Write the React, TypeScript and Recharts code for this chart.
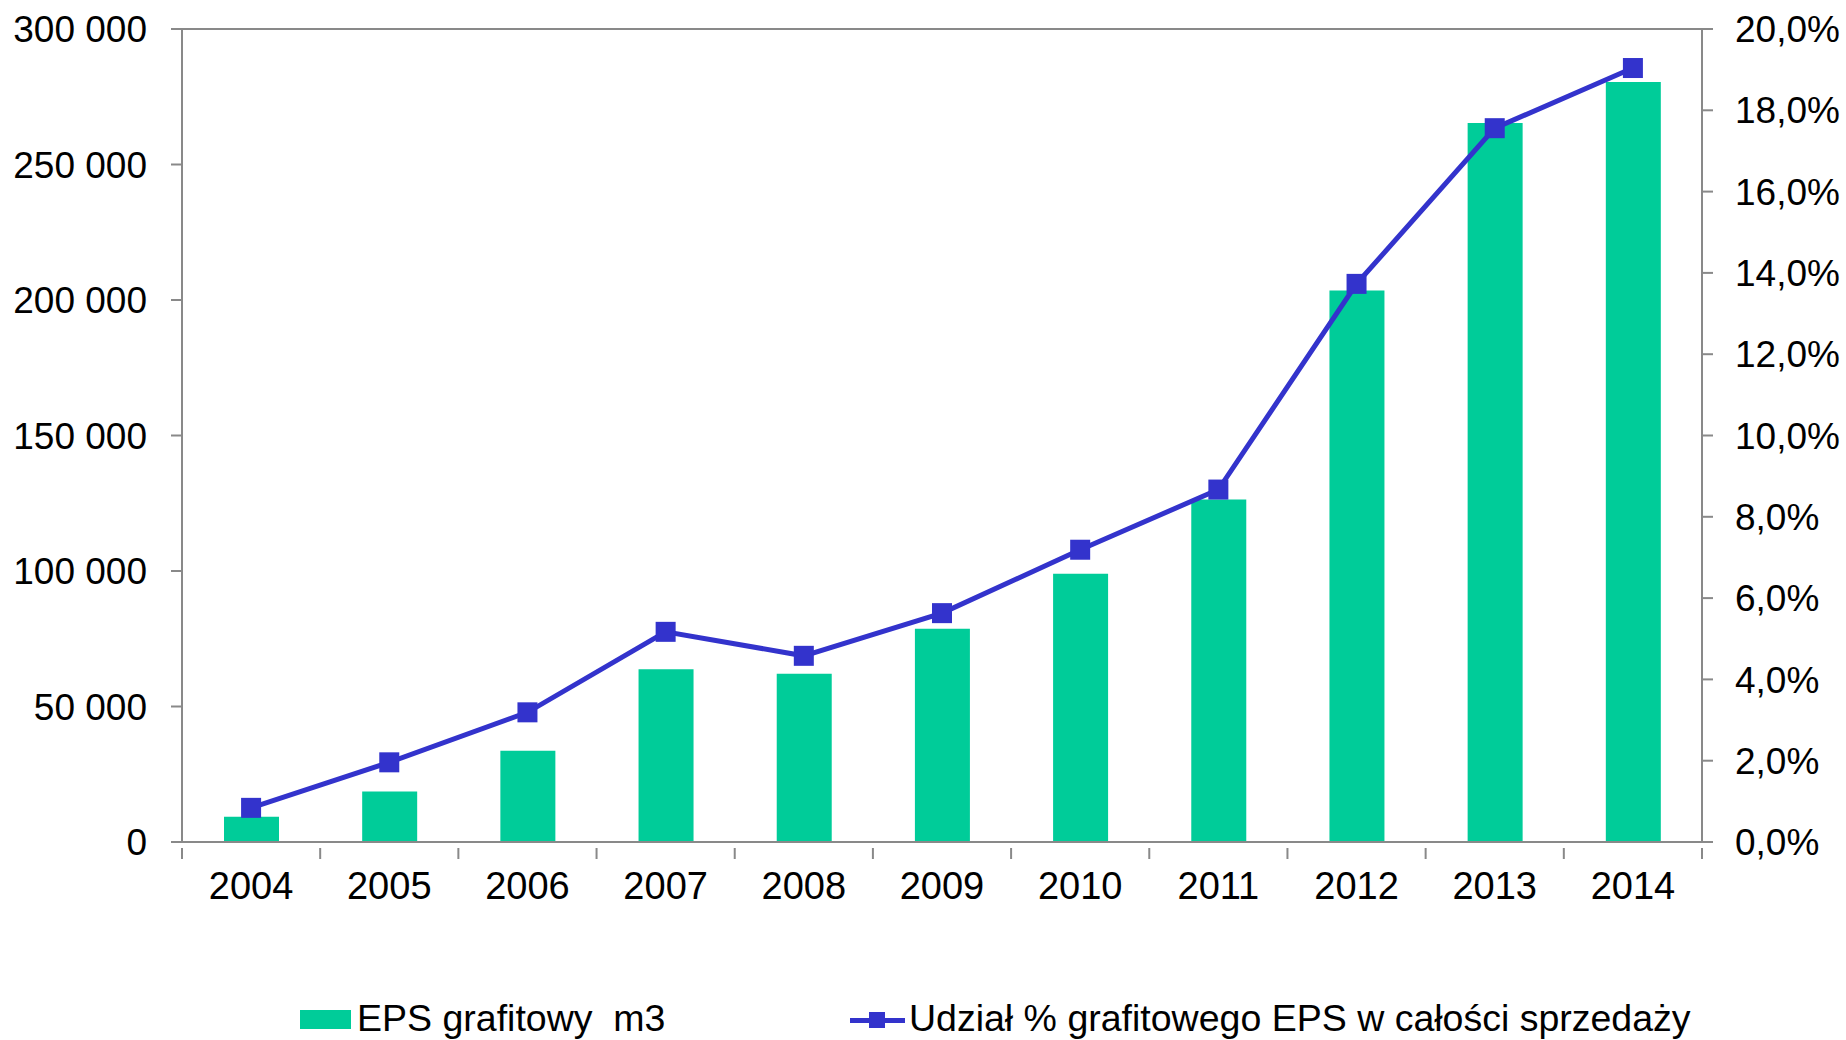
import {
  ComposedChart,
  Bar,
  Line,
  XAxis,
  YAxis,
  CartesianGrid,
  Legend,
} from "recharts";

const years = ["2004", "2005", "2006", "2007", "2008", "2009", "2010", "2011", "2012", "2013", "2014"];
const epsVolume = [9300, 18600, 33700, 63700, 62100, 78700, 99000, 126400, 203500, 265300, 280400];
const epsShare = [0.0084, 0.0196, 0.0319, 0.0517, 0.0458, 0.0563, 0.0719, 0.0867, 0.1373, 0.1756, 0.1904];
const volumeTicks = [0, 50000, 100000, 150000, 200000, 250000, 300000];
const shareTicks = [0, 0.02, 0.04, 0.06, 0.08, 0.1, 0.12, 0.14, 0.16, 0.18, 0.2];

const data = years.map((year, i) => ({
  year,
  volume: epsVolume[i],
  share: epsShare[i],
}));

const FONT = "'Liberation Sans', Arial, sans-serif";
const GRAY = "#898989";
const GREEN = "#00CC99";
const BLUE = "#3333CC";
const X_MARGIN = 24;

const fmtVolume = (v: number) =>
  String(Math.round(v)).replace(/\B(?=(\d{3})+(?!\d))/g, " ");
const fmtShare = (v: number) => (v * 100).toFixed(1).replace(".", ",") + "%";

function SquareDot(props: any) {
  const { cx, cy } = props;
  if (cx == null || cy == null) return null;
  return <rect x={cx - 10} y={cy - 10} width={20} height={20} fill={BLUE} />;
}

// ticks between categories, label in the middle
function YearTick(props: any) {
  const { x, y, payload, index } = props;
  const half = payload.offset || 0;
  const last = index === years.length - 1;
  const top = y - X_MARGIN;
  return (
    <g>
      <line x1={x - half} y1={top} x2={x - half} y2={top + 11} stroke={GRAY} strokeWidth={2} />
      {last && (
        <line x1={x + half} y1={top} x2={x + half} y2={top + 11} stroke={GRAY} strokeWidth={2} />
      )}
      <text x={x} y={y} dy="0.71em" textAnchor="middle" fill="#000" fontSize={38} fontFamily={FONT}>
        {payload.value}
      </text>
    </g>
  );
}

function renderLegend() {
  return (
    <div style={{ position: "relative", width: 1846, height: 40, fontFamily: FONT, fontSize: 37.5, lineHeight: "36px", color: "#000" }}>
      <div style={{ position: "absolute", left: 300, top: 10, width: 51, height: 19, background: GREEN }} />
      <span style={{ position: "absolute", left: 357, top: 0, whiteSpace: "pre" }}>EPS grafitowy  m3</span>
      <div style={{ position: "absolute", left: 850, top: 18, width: 55, height: 5, background: BLUE }} />
      <div style={{ position: "absolute", left: 869, top: 12, width: 16, height: 16, background: BLUE }} />
      <span style={{ position: "absolute", left: 909, top: 0, whiteSpace: "pre" }}>
        Udział % grafitowego EPS w całości sprzedaży
      </span>
    </div>
  );
}

export default function App() {
  return (
    <div style={{ position: "absolute", left: 0, top: 0, background: "#fff" }}>
      <ComposedChart
        width={1846}
        height={1040}
        data={data}
        margin={{ top: 29, right: 0, bottom: 138, left: 0 }}
      >
        <CartesianGrid vertical={false} stroke={GRAY} strokeWidth={2} />
        <XAxis
          dataKey="year"
          height={60}
          axisLine={{ stroke: GRAY, strokeWidth: 2 }}
          tickLine={false}
          tickMargin={X_MARGIN}
          tick={<YearTick />}
          interval={0}
        />
        <YAxis
          yAxisId="left"
          width={182}
          domain={[0, 300000]}
          ticks={volumeTicks}
          tickFormatter={fmtVolume}
          axisLine={{ stroke: GRAY, strokeWidth: 2 }}
          tickLine={{ stroke: GRAY, strokeWidth: 2 }}
          tickSize={11}
          tickMargin={24}
          tick={{ fill: "#000", fontSize: 37, fontFamily: FONT }}
        />
        <YAxis
          yAxisId="right"
          orientation="right"
          width={144}
          domain={[0, 0.2]}
          ticks={shareTicks}
          tickFormatter={fmtShare}
          axisLine={{ stroke: GRAY, strokeWidth: 2 }}
          tickLine={{ stroke: GRAY, strokeWidth: 2 }}
          tickSize={11}
          tickMargin={22}
          tick={{ fill: "#000", fontSize: 37, fontFamily: FONT, textAnchor: "start" }}
        />
        <Bar yAxisId="left" dataKey="volume" name="EPS grafitowy  m3" fill={GREEN} barSize={55} isAnimationActive={false} />
        <Line
          yAxisId="right"
          dataKey="share"
          name="Udział % grafitowego EPS w całości sprzedaży"
          type="linear"
          stroke={BLUE}
          strokeWidth={5}
          dot={<SquareDot />}
          activeDot={false}
          isAnimationActive={false}
        />
        <Legend
          layout="vertical"
          align="center"
          verticalAlign="middle"
          content={renderLegend}
          wrapperStyle={{ left: 0, top: 1000, width: 1846, height: 40 }}
        />
      </ComposedChart>
    </div>
  );
}
